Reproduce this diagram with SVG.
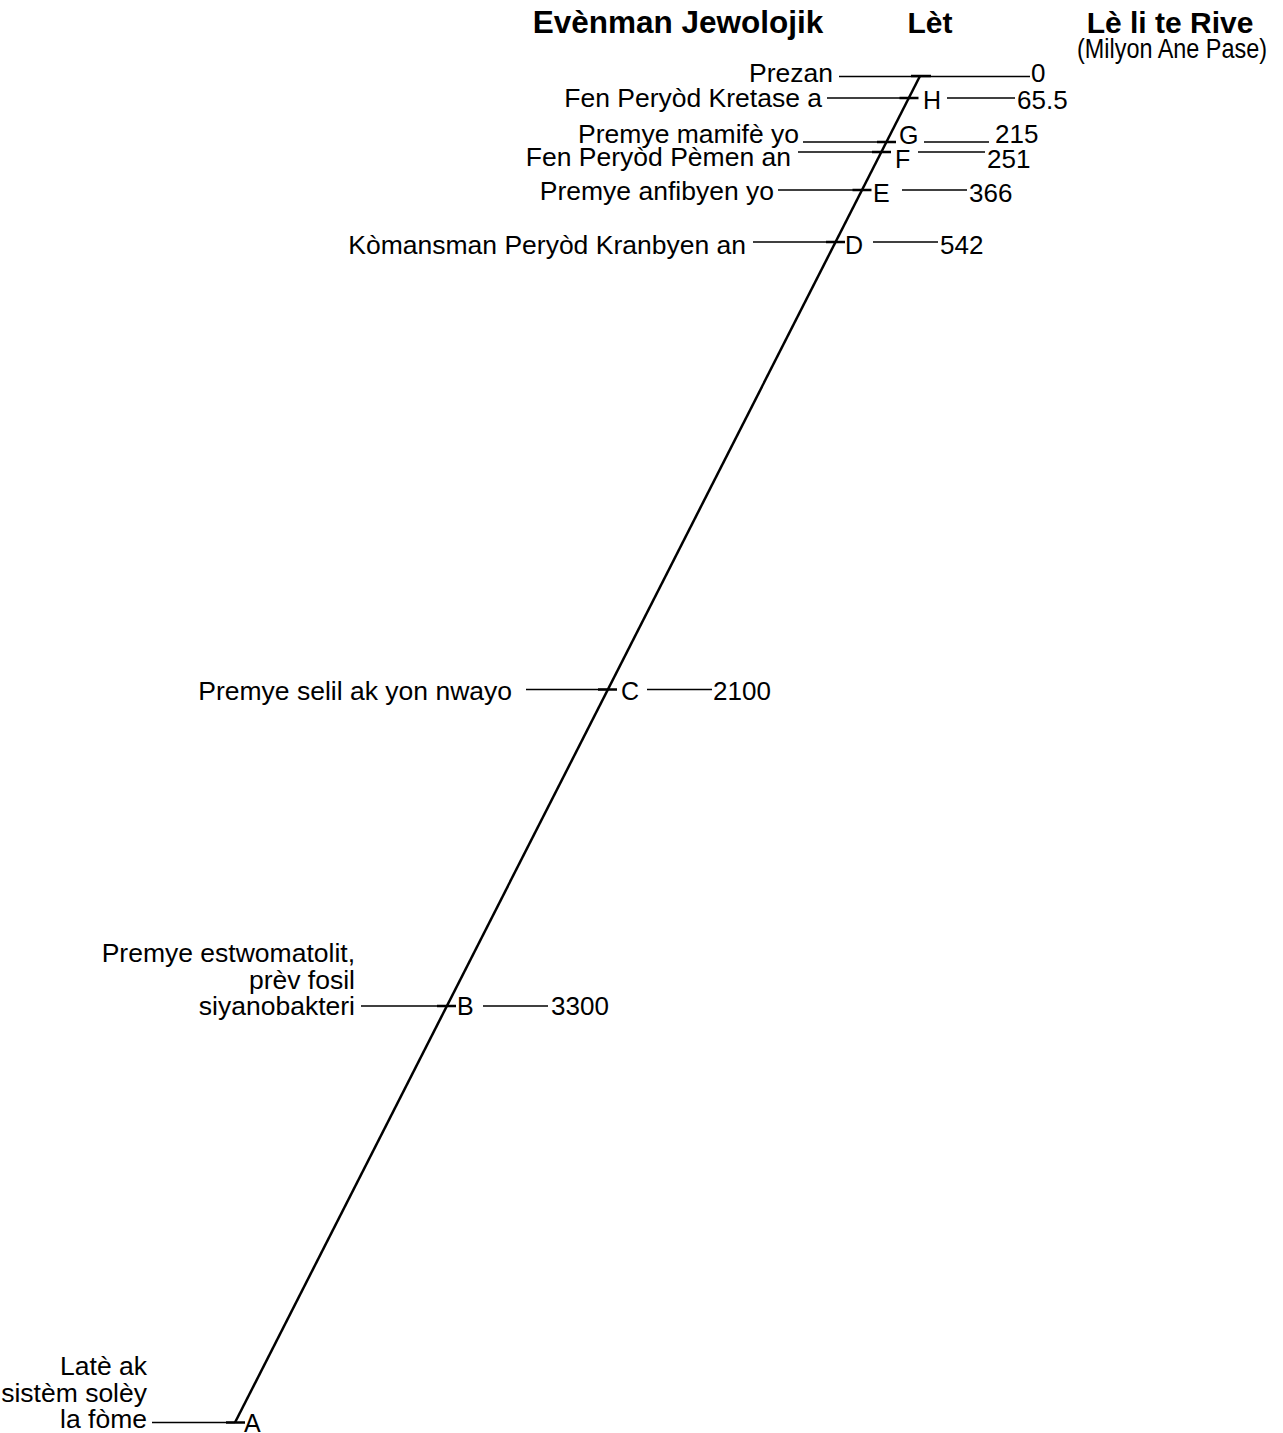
<svg xmlns="http://www.w3.org/2000/svg" width="1283" height="1433" viewBox="0 0 1283 1433">
<style>
.hdr{font-family:"Liberation Sans",Arial,sans-serif;font-weight:bold;font-size:30px;fill:#000;text-anchor:middle}
.sub{font-family:"Liberation Sans",Arial,sans-serif;font-size:28px;fill:#000;text-anchor:middle}
.lbl{font-family:"Liberation Sans",Arial,sans-serif;font-size:26.5px;fill:#000;text-anchor:end}
.num{font-family:"Liberation Sans",Arial,sans-serif;font-size:26px;fill:#000}
.let{font-family:"Liberation Sans",Arial,sans-serif;font-size:25px;fill:#000}
.ln{stroke:#000;stroke-width:1.5;fill:none}
.tick{stroke:#000;stroke-width:2.5;fill:none}
.axis{stroke:#000;stroke-width:2.5;fill:none}
</style>
<rect width="1283" height="1433" fill="#fff"/>
<g id="headers">
<text class="hdr" x="678" y="33" style="font-size:31.5px">Evènman Jewolojik</text>
<text class="hdr" x="930" y="33">Lèt</text>
<text class="hdr" x="1170" y="33">Lè li te Rive</text>
<text class="sub" x="1172" y="58" textLength="190" lengthAdjust="spacingAndGlyphs">(Milyon Ane Pase)</text>
</g>
<g id="connectors">
<line class="axis" x1="920" y1="76" x2="235" y2="1422.5"/>
<line class="ln" x1="839" y1="76.5" x2="1030" y2="76.5"/>
<line class="ln" x1="827" y1="98" x2="909" y2="98"/>
<line class="ln" x1="947" y1="98" x2="1015" y2="98"/>
<line class="ln" x1="803" y1="142" x2="886" y2="142"/>
<line class="ln" x1="924" y1="142" x2="989" y2="142"/>
<line class="ln" x1="798" y1="152" x2="881" y2="152"/>
<line class="ln" x1="918" y1="152" x2="985" y2="152"/>
<line class="ln" x1="778" y1="190" x2="862" y2="190"/>
<line class="ln" x1="902" y1="190" x2="967" y2="190"/>
<line class="ln" x1="753" y1="242" x2="835" y2="242"/>
<line class="ln" x1="873" y1="242" x2="938" y2="242"/>
<line class="ln" x1="526" y1="689.5" x2="608" y2="689.5"/>
<line class="ln" x1="647" y1="689.5" x2="712" y2="689.5"/>
<line class="ln" x1="361" y1="1006" x2="447" y2="1006"/>
<line class="ln" x1="483" y1="1006" x2="548" y2="1006"/>
<line class="ln" x1="152" y1="1422.5" x2="235" y2="1422.5"/>
</g>
<g id="node-prezan">
<line class="tick" x1="911" y1="76" x2="931" y2="76"/>
<text class="lbl" x="833" y="82">Prezan</text>
<text class="num" x="1031" y="82">0</text>
</g>
<g id="node-H">
<line class="tick" x1="899.5" y1="98" x2="918.5" y2="98"/>
<text class="lbl" x="822" y="107">Fen Peryòd Kretase a</text>
<text class="let" x="923" y="109">H</text>
<text class="num" x="1017" y="109">65.5</text>
</g>
<g id="node-G">
<line class="tick" x1="877" y1="142" x2="896" y2="142"/>
<text class="lbl" x="799" y="143">Premye mamifè yo</text>
<text class="let" x="899" y="144">G</text>
<text class="num" x="995" y="143">215</text>
</g>
<g id="node-F">
<line class="tick" x1="872" y1="152" x2="891" y2="152"/>
<text class="lbl" x="791" y="166">Fen Peryòd Pèmen an</text>
<text class="let" x="895" y="168">F</text>
<text class="num" x="987" y="168">251</text>
</g>
<g id="node-E">
<line class="tick" x1="852.5" y1="190" x2="871.5" y2="190"/>
<text class="lbl" x="774" y="200">Premye anfibyen yo</text>
<text class="let" x="873" y="202">E</text>
<text class="num" x="969" y="202">366</text>
</g>
<g id="node-D">
<line class="tick" x1="826" y1="242" x2="845" y2="242"/>
<text class="lbl" x="746" y="254">Kòmansman Peryòd Kranbyen an</text>
<text class="let" x="845" y="254">D</text>
<text class="num" x="940" y="254">542</text>
</g>
<g id="node-C">
<line class="tick" x1="598" y1="689.5" x2="617" y2="689.5"/>
<text class="lbl" x="512" y="700">Premye selil ak yon nwayo</text>
<text class="let" x="621" y="700">C</text>
<text class="num" x="713" y="700">2100</text>
</g>
<g id="node-B">
<line class="tick" x1="437" y1="1006" x2="456" y2="1006"/>
<text class="lbl" x="355" y="962">Premye estwomatolit,</text>
<text class="lbl" x="355" y="989">prèv fosil</text>
<text class="lbl" x="355" y="1015">siyanobakteri</text>
<text class="let" x="457" y="1015">B</text>
<text class="num" x="551" y="1015">3300</text>
</g>
<g id="node-A">
<line class="tick" x1="226" y1="1422.5" x2="245" y2="1422.5"/>
<text class="lbl" x="147" y="1375">Latè ak</text>
<text class="lbl" x="147" y="1402">sistèm solèy</text>
<text class="lbl" x="147" y="1428">la fòme</text>
<text class="let" x="244" y="1432">A</text>
</g>
</svg>
